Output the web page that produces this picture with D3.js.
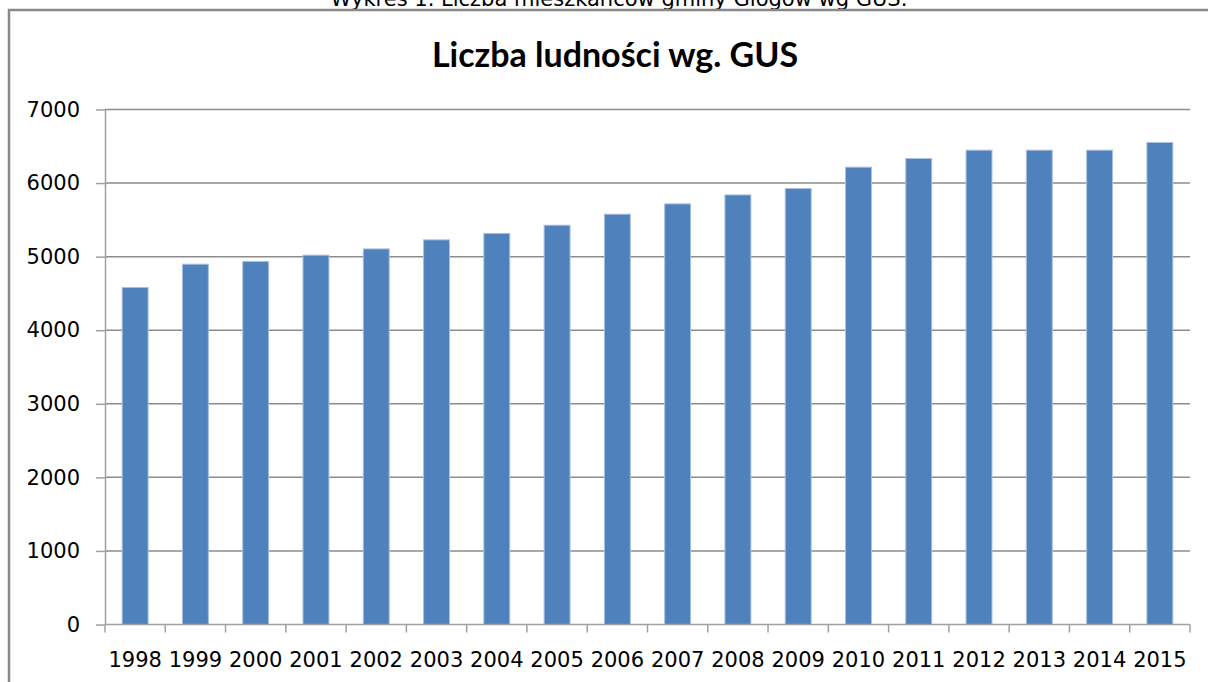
<!DOCTYPE html>
<html>
<head>
<meta charset="utf-8">
<title>Liczba ludności wg. GUS</title>
<style>
body { margin: 0; background: #fff; }
text { font-family: "DejaVu Sans", Verdana, sans-serif; fill: #000; }
.title { font-family: Lato, "Open Sans", sans-serif; font-weight: bold; font-size: 34px; }
.grid line { stroke: #8c8c8c; stroke-width: 1.5px; }
.axis path, .axis line { stroke: #a0a0a0; stroke-width: 1.5px; }
rect.bar { fill: #4f81bd; stroke: #a7c0de; stroke-width: 1px; }
</style>
</head>
<body>
<script src="https://cdn.jsdelivr.net/npm/d3@7"></script>
<script>

// values
var years = ["1998","1999","2000","2001","2002","2003","2004","2005","2006",
             "2007","2008","2009","2010","2011","2012","2013","2014","2015"];
var population = [4580, 4897, 4934, 5020, 5105, 5228, 5315, 5427, 5577,
                  5717, 5839, 5926, 6216, 6334, 6447, 6447, 6447, 6552];
var yTicks = [0, 1000, 2000, 3000, 4000, 5000, 6000, 7000];

var width = 1208,
    height = 682;

var plot = {left: 105, right: 1190, top: 109.5, bottom: 624.5};

var svg = d3.select("body").append("svg")
    .attr("width", width)
    .attr("height", height);

// caption above the chart frame (cut off in the original)
svg.append("text")
    .attr("x", 619)
    .attr("y", 6)
    .attr("text-anchor", "middle")
    .style("font-size", "21px")
    .text("Wykres 1. Liczba mieszkańców gminy Głogów wg GUS.");

// chart frame
svg.append("path")
    .attr("d", "M9," + height + "V10H" + width)
    .style("fill", "none")
    .style("stroke", "#888")
    .style("stroke-width", "2.5px");

var x = d3.scaleBand()
    .domain(years)
    .range([plot.left, plot.right])
    .paddingInner(0.57)
    .paddingOuter(0.285);

var y = d3.scaleLinear()
    .domain([0, 7000])
    .range([plot.bottom, plot.top]);

// gridlines
svg.append("g")
    .attr("class", "grid")
    .selectAll("line")
    .data(yTicks.filter(function(d) { return d > 0; }))
    .enter().append("line")
    .attr("x1", plot.left)
    .attr("x2", plot.right)
    .attr("y1", function(d) { return y(d); })
    .attr("y2", function(d) { return y(d); });

// bars
svg.append("g")
    .selectAll("rect")
    .data(population)
    .enter().append("rect")
    .attr("class", "bar")
    .attr("x", function(d, i) { return x(years[i]); })
    .attr("width", x.bandwidth())
    .attr("y", function(d) { return y(d); })
    .attr("height", function(d) { return y(0) - y(d); });

// y axis
var yAxis = svg.append("g")
    .attr("class", "axis")
    .attr("transform", "translate(" + plot.left + ",0)")
    .call(d3.axisLeft(y).tickValues(yTicks).tickFormat(d3.format("d"))
        .tickSize(9).tickPadding(16).tickSizeOuter(0));
yAxis.selectAll("text").style("font-size", "21px").style("font-family", "DejaVu Sans");

// x axis: ticks between categories
var xAxis = svg.append("g")
    .attr("class", "axis")
    .attr("transform", "translate(0," + plot.bottom + ")");
xAxis.append("line")
    .attr("x1", plot.left).attr("x2", plot.right);
xAxis.selectAll(".sep")
    .data(d3.range(years.length + 1))
    .enter().append("line")
    .attr("class", "sep")
    .attr("x1", function(i) { return plot.left + i * x.step(); })
    .attr("x2", function(i) { return plot.left + i * x.step(); })
    .attr("y1", 0)
    .attr("y2", 8);
xAxis.selectAll(".lab")
    .data(years)
    .enter().append("text")
    .attr("class", "lab")
    .attr("x", function(d) { return x(d) + x.bandwidth() / 2; })
    .attr("y", 42)
    .attr("text-anchor", "middle")
    .style("font-size", "21px")
    .text(function(d) { return d; });

// title
svg.append("text")
    .attr("class", "title")
    .attr("x", 615)
    .attr("y", 67)
    .attr("text-anchor", "middle")
    .text("Liczba ludności wg. GUS");

</script>
</body>
</html>
